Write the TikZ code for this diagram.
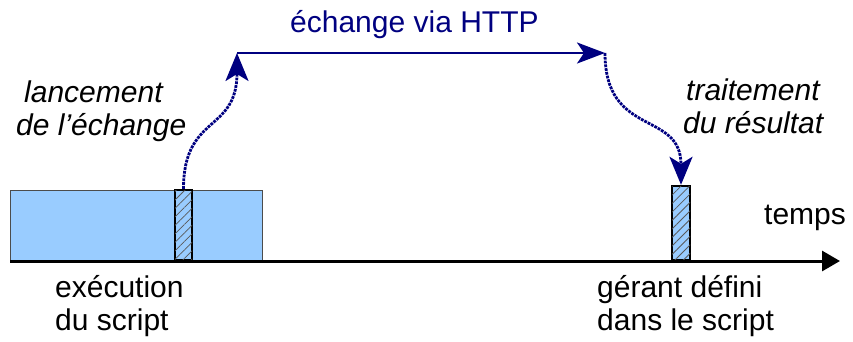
\documentclass[tikz,border=0pt]{standalone}
\usepackage{fontspec}
\setmainfont{Liberation Sans}
\usetikzlibrary{arrows.meta, patterns.meta}

\definecolor{bleuscript}{RGB}{153,204,255}
\definecolor{bleuhttp}{RGB}{0,0,128}

\tikzset{
  legende/.style={font=\fontsize{30}{33}\selectfont, align=left, inner sep=0pt, anchor=base west},
  gerant/.style={draw=black, line width=2.4pt, fill=bleuscript, minimum width=17pt, inner sep=0pt,
    postaction={pattern={Lines[angle=45, distance=6pt, line width=0.8pt]}, pattern color=black!65}},
  echange/.style={draw=bleuhttp, line width=2.8pt, densely dotted,
    -{Stealth[length=28pt, width=23pt, inset=7pt]}}
}

\begin{document}
\begin{tikzpicture}[x=1pt, y=-1pt]
        \useasboundingbox (0,0) rectangle (853,341);

        % bloc du script et gerants
        \node (script)  [draw=black!70, line width=0.8pt, fill=bleuscript, minimum width=252pt, minimum height=70pt, inner sep=0pt] at (136,225) {};
        \node (lancer)  [gerant, minimum height=70pt] at (183.5,225) {};
        \node (traiter) [gerant, minimum width=18pt, minimum height=74pt] at (681,223) {};

        % axe du temps
        \coordinate (t0)   at (10,261);
        \coordinate (tfin) at (840,261);
        \draw[line width=3pt, -{Triangle[length=18pt, width=20pt]}] (t0) -- (tfin);

        % echange
        \coordinate (depart)  at (237,53);
        \coordinate (arrivee) at (605,53);
        \draw[echange] (lancer.north) .. controls +(0,-75) and +(0,80) .. (depart);
        \draw[draw=bleuhttp, line width=2.6pt, -{Stealth[length=28pt, width=21pt, inset=7pt]}] (depart) -- (arrivee);
        \draw[echange] (arrivee) .. controls +(0,85) and +(0,-75) .. (traiter.north);

        % textes
        \node (http)   [legende, text=bleuhttp] at (290,32) {échange via HTTP};
        \node (temps)  [legende] at (764,224) {temps};
        \node (lanc)   [legende, font=\fontsize{30}{33}\selectfont\itshape] at (16,135) {\hspace*{8pt}lancement\\de l'échange};
        \node (trait)  [legende, font=\fontsize{30}{33}\selectfont\itshape] at (683,133) {\hspace*{3pt}traitement\\du résultat};
        \node (exec)   [legende] at (55,330) {exécution\\du script};
        \node (defini) [legende] at (597,330) {gérant défini\\dans le script};
    \end{tikzpicture}
\end{document}
